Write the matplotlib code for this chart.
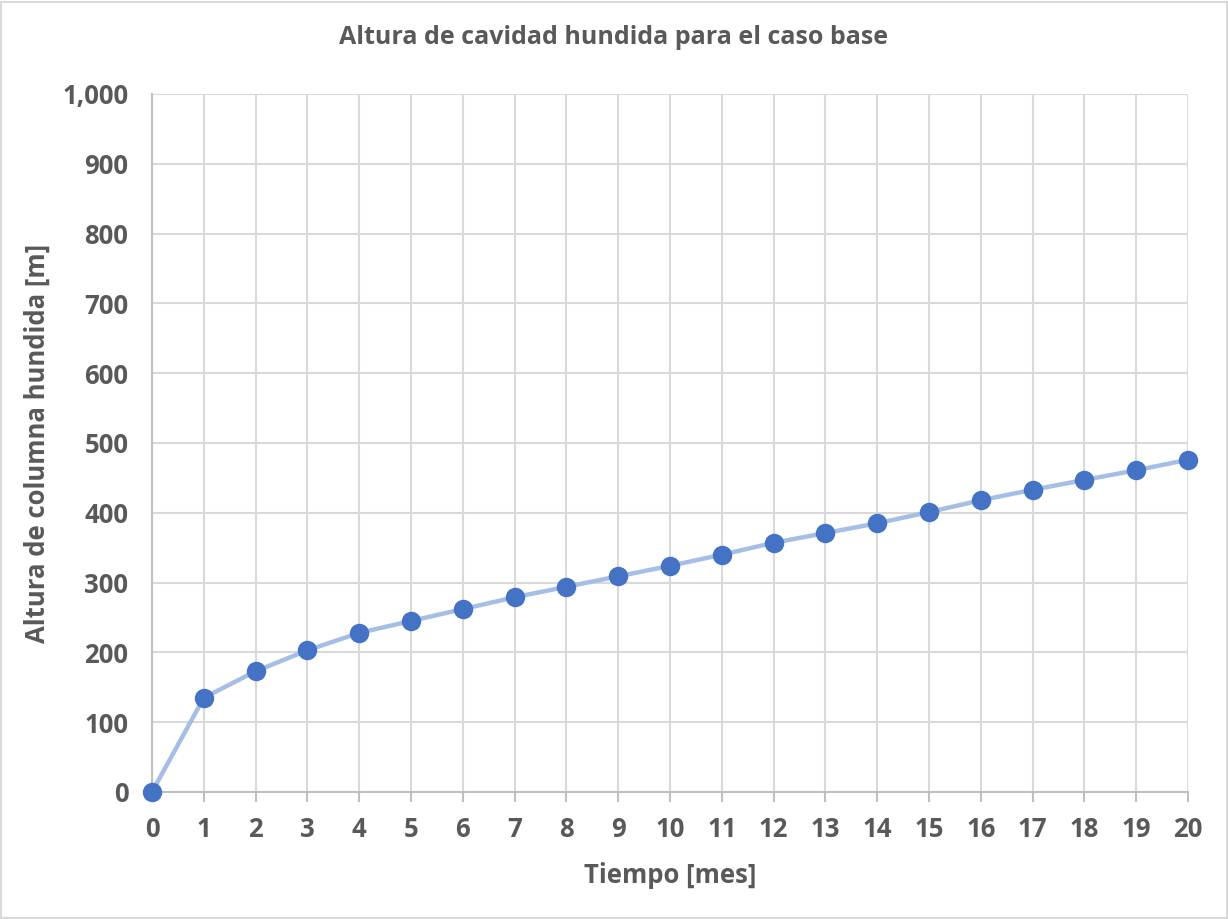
import matplotlib
matplotlib.use("Agg")
import matplotlib.pyplot as plt
from matplotlib.ticker import FuncFormatter, MultipleLocator
from matplotlib.patches import Rectangle

# Cave height over time for the base case
meses = list(range(0, 21))
altura = [0, 135, 173, 203, 228, 245, 262, 279, 294, 309, 324,
          340, 357, 371, 385, 401, 418, 433, 447, 461, 476]

titulo = "Altura de cavidad hundida para el caso base"
eje_x = "Tiempo [mes]"
eje_y = "Altura de columna hundida [m]"

plt.rcParams['font.family'] = ['Open Sans', 'DejaVu Sans']
texto = "#595959"
rejilla = "#D9D9D9"

fig = plt.figure(figsize=(12.28, 9.19), dpi=100)
fig.patches.append(Rectangle((0.001, 0.001), 0.998, 0.997, transform=fig.transFigure,
                             fill=False, edgecolor="#D9D9D9", linewidth=1.5))

ax = fig.add_axes([152 / 1228, (919 - 792) / 919, (1188 - 152) / 1228, (792 - 94) / 919])
ax.plot(meses, altura, color="#A5BEE6", linewidth=3.2, zorder=3,
        marker="o", markersize=13, markerfacecolor="#4472C4",
        markeredgecolor="#4472C4", clip_on=False)

ax.set_xlim(0, 20)
ax.set_ylim(0, 1000)
ax.xaxis.set_major_locator(MultipleLocator(1))
ax.yaxis.set_major_locator(MultipleLocator(100))
ax.yaxis.set_major_formatter(FuncFormatter(lambda v, p: f"{int(v):,}"))

ax.grid(True, color=rejilla, linewidth=1.5, zorder=0)
ax.set_axisbelow(True)
for s in ("top", "right"):
    ax.spines[s].set_visible(False)
for s in ("left", "bottom"):
    ax.spines[s].set_color("#BFBFBF")
    ax.spines[s].set_linewidth(1.5)

ax.tick_params(axis="x", direction="out", length=7, width=1.5, color="#BFBFBF",
               labelsize=18.5, labelcolor=texto, pad=10)
ax.tick_params(axis="y", length=0, labelsize=18.5, labelcolor=texto, pad=17)
for lab in ax.get_xticklabels() + ax.get_yticklabels():
    lab.set_fontweight("bold")

ax.set_xlabel(eje_x, fontsize=18.5, fontweight="bold", color=texto, labelpad=14)
ax.set_ylabel(eje_y, fontsize=18.5, fontweight="bold", color=texto, labelpad=8)
fig.text(0.5, 1 - 38 / 919, titulo, ha="center", va="center",
         fontsize=18, fontweight="bold", color=texto)

fig.savefig("out.png", dpi=100)
